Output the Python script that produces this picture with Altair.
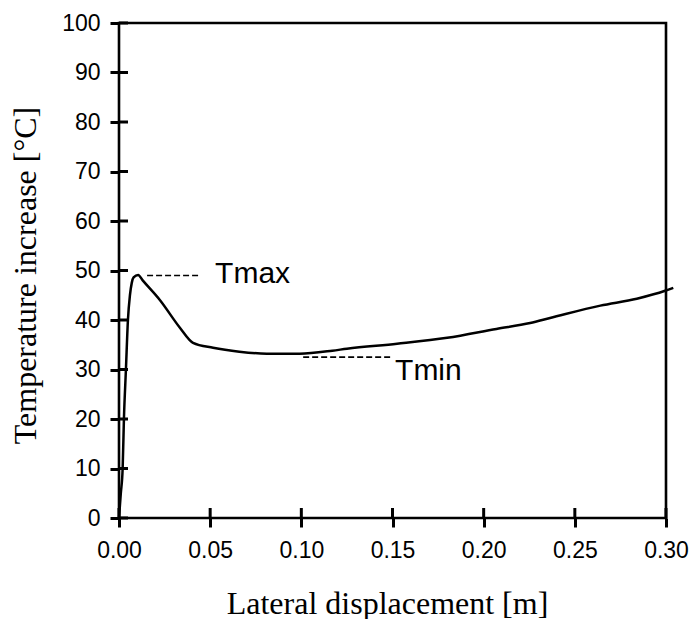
import altair as alt
import pandas as pd

# Curve
disp = [0.0, 0.001, 0.002, 0.0027, 0.0038, 0.0049, 0.006, 0.007, 0.008, 0.0105, 0.013,
        0.0225, 0.0335, 0.0406, 0.0516, 0.066, 0.081, 0.099, 0.117, 0.125, 0.1525,
        0.18, 0.207, 0.2255, 0.2364, 0.264, 0.284, 0.2995, 0.304]
temp = [0.0, 5.0, 10.0, 20.0, 30.0, 40.0, 45.0, 47.5, 48.6, 49.1, 48.0,
        44.0, 38.4, 35.4, 34.4, 33.6, 33.2, 33.2, 33.8, 34.2, 35.2,
        36.4, 38.2, 39.4, 40.4, 42.9, 44.3, 45.9, 46.5]

x_ticks = [0.0, 0.05, 0.10, 0.15, 0.20, 0.25, 0.30]
y_ticks = [0, 10, 20, 30, 40, 50, 60, 70, 80, 90, 100]

# Annotations
ann_label = ["Tmax", "Tmin"]
ann_x1 = [0.0154, 0.101]
ann_x2 = [0.0444, 0.1487]
ann_y = [49.0, 32.5]
ann_text_x = [0.0527, 0.1514]
ann_text_y = [49.3, 29.6]

W, H = 547, 495

curve_df = pd.DataFrame({"x": disp, "y": temp})
ann_df = pd.DataFrame({"label": ann_label, "x1": ann_x1, "x2": ann_x2, "y": ann_y,
                       "tx": ann_text_x, "ty": ann_text_y})
xt_df = pd.DataFrame({"tv": x_ticks})
yt_df = pd.DataFrame({"tv": y_ticks})

xscale = alt.Scale(domain=[0, 0.30], nice=False, zero=False)
yscale = alt.Scale(domain=[0, 100], nice=False)

common = dict(ticks=True, tickSize=9, tickWidth=3, tickColor="#000000", tickOpacity=1,
              domain=False, grid=False,
              labelFont="Liberation Sans", labelFontSize=23, labelColor="black",
              titleFontWeight="normal", titleColor="black", titleFont="Liberation Serif",
              titleFontSize=32, titleAlign="center", titleBaseline="middle",
              labelFlush=False)

xaxis = alt.Axis(values=x_ticks, format=".2f", labelPadding=12,
                 title="Lateral displacement [m]", titleX=268, titleY=85, **common)
yaxis = alt.Axis(values=y_ticks, labelPadding=10,
                 title="Temperature increase [°C]", titleX=-94, titleY=252,
                 titleAngle=-90, **common)

curve = alt.Chart(curve_df).mark_line(color="black", strokeWidth=2.5, clip=False,
                                      interpolate="monotone").encode(
    x=alt.X("x:Q", scale=xscale, axis=xaxis),
    y=alt.Y("y:Q", scale=yscale, axis=yaxis),
    order=alt.Order("x:Q"),
)

dash = alt.Chart(ann_df).mark_rule(color="black", strokeWidth=1.6, strokeDash=[6, 3]).encode(
    x=alt.X("x1:Q", scale=xscale), x2="x2:Q", y=alt.Y("y:Q", scale=yscale)
)

labels = alt.Chart(ann_df).mark_text(font="Liberation Sans", fontSize=30, color="black",
                                     align="left", baseline="middle").encode(
    x=alt.X("tx:Q", scale=xscale), y=alt.Y("ty:Q", scale=yscale), text="label:N"
)

# inward half of the crossing ticks
yin = alt.Chart(yt_df).mark_rule(color="black", strokeWidth=3).encode(
    y=alt.Y("tv:Q", scale=yscale), x=alt.value(0), x2=alt.value(9)
)
xin = alt.Chart(xt_df).mark_rule(color="black", strokeWidth=3).encode(
    x=alt.X("tv:Q", scale=xscale), y=alt.value(H - 10), y2=alt.value(H)
)

chart = alt.layer(curve, dash, labels, yin, xin).properties(
    width=W, height=H,
    autosize=alt.AutoSizeParams(type="none"),
    padding={"left": 119, "top": 23, "right": 28, "bottom": 101},
    background="white",
).configure_view(stroke="black", strokeWidth=2.6)

chart.save("out.html", embed_options={"renderer": "svg", "actions": False})
